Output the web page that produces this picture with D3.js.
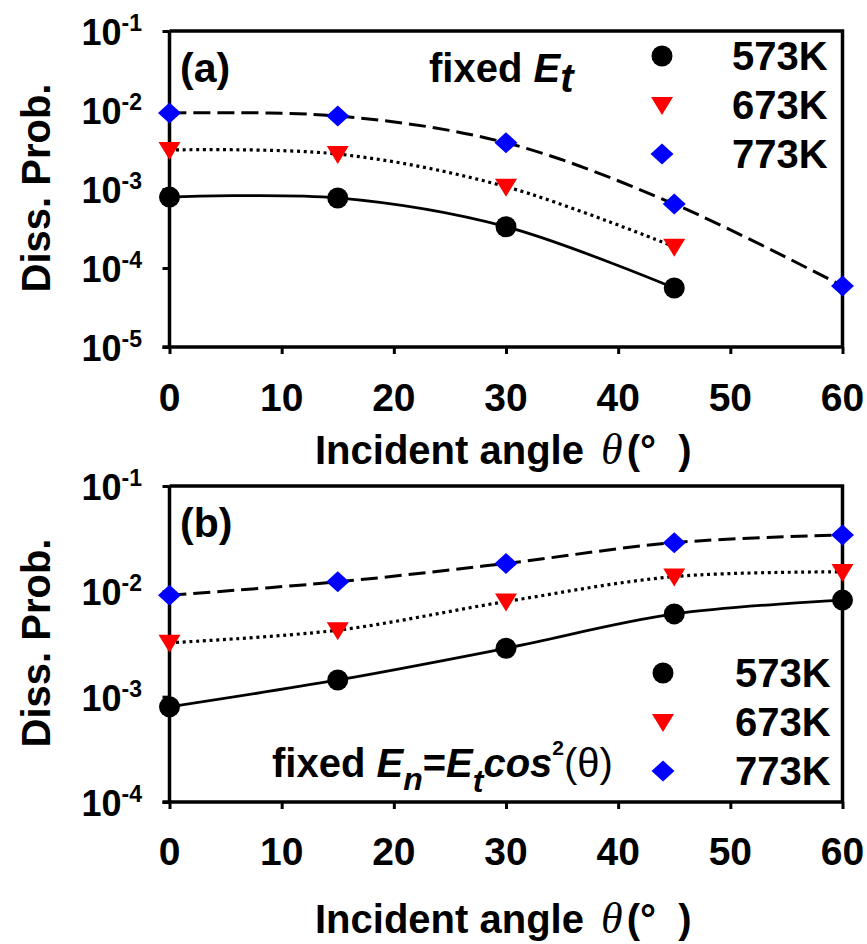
<!DOCTYPE html>
<html>
<head>
<meta charset="utf-8">
<script src="https://cdn.jsdelivr.net/npm/d3@7"></script>
<style>
  html, body { margin: 0; padding: 0; background: #fff; }
  svg { display: block; }
  text { font-family: "Liberation Sans", Arial, sans-serif; font-weight: bold; fill: #000; white-space: pre; }
</style>
</head>
<body>
<svg id="fig" width="867" height="944"></svg>
<script>
// Incident angles (degrees)
const anglesA = [0, 15, 30, 45, 60];
const anglesB = [0, 15, 30, 45, 60];

// Panel (a): fixed total energy E_t
const a573 = [7.9e-4, 7.7e-4, 3.33e-4, 5.58e-5];
const a673 = [3.12e-3, 2.77e-3, 1.07e-3, 1.86e-4];
const a773 = [9.16e-3, 8.4e-3, 3.85e-3, 6.45e-4, 5.91e-5];

// Panel (b): fixed normal energy E_n = E_t cos^2(theta)
const b573 = [8.0e-4, 1.44e-3, 2.88e-3, 6.1e-3, 8.26e-3];
const b673 = [3.25e-3, 4.28e-3, 8.0e-3, 1.38e-2, 1.53e-2];
const b773 = [9.2e-3, 1.23e-2, 1.84e-2, 2.9e-2, 3.43e-2];

const seriesNames = ["573K", "673K", "773K"];
const xTicks = [0, 10, 20, 30, 40, 50, 60];
const yTicksA = [-1, -2, -3, -4, -5];
const yTicksB = [-1, -2, -3, -4];

const svg = d3.select("#fig");

const styles = [
  { color: "#000000", shape: "circle",   dash: null,      width: 2.8 },
  { color: "#ff0000", shape: "triangle", dash: "3,3.7",   width: 3.2 },
  { color: "#0000ff", shape: "diamond",  dash: "17,7",    width: 3 }
];

function marker(g, shape, color, x, y) {
  if (shape === "circle") {
    g.append("circle").attr("cx", x).attr("cy", y).attr("r", 10.5).attr("fill", color);
  } else if (shape === "triangle") {
    g.append("path")
      .attr("d", `M${x - 11},${y - 8} L${x + 11},${y - 8} L${x},${y + 10} Z`)
      .attr("fill", color);
  } else {
    g.append("path")
      .attr("d", `M${x},${y - 10.5} L${x + 11.5},${y} L${x},${y + 10.5} L${x - 11.5},${y} Z`)
      .attr("fill", color);
  }
}

function panel(opts) {
  const { top, bottom, yDomain, yTicks, angles, series, label, legendY, legendX, textX, titleY, xLabelY, xTitleY } = opts;
  const left = 169.5, right = 842.5;
  const x = d3.scaleLinear().domain([0, 60]).range([left, right]);
  const y = d3.scaleLog().domain(yDomain).range([bottom, top]);
  const g = svg.append("g");

  // frame: top and right border
  g.append("path")
    .attr("d", `M${left},${top} L${right},${top} L${right},${bottom}`)
    .attr("fill", "none").attr("stroke", "#000").attr("stroke-width", 3.5);

  // left axis
  const yAxis = d3.axisLeft(y)
    .tickValues(yTicks.map(e => Math.pow(10, e)))
    .tickSize(7).tickFormat("");
  const ya = g.append("g").attr("transform", `translate(${left},0)`).call(yAxis);
  ya.select(".domain").attr("stroke-width", 3.5).attr("d", `M0,${top}V${bottom}`);
  ya.selectAll(".tick line").attr("stroke-width", 3);

  // y tick labels as 10^n
  yTicks.forEach(e => {
    const ty = y(Math.pow(10, e));
    const t = g.append("text").attr("x", 142).attr("y", ty + 14)
      .attr("text-anchor", "end").style("font-size", "36px");
    t.append("tspan").text("10");
    t.append("tspan").attr("dy", -14).style("font-size", "23px").text("-" + Math.abs(e));
  });

  // bottom axis
  const xAxis = d3.axisBottom(x).tickValues(xTicks).tickSize(7).tickFormat("");
  const xa = g.append("g").attr("transform", `translate(0,${bottom})`).call(xAxis);
  xa.select(".domain").attr("stroke-width", 3.5).attr("d", `M${left - 7},0H${right}`);
  xa.selectAll(".tick line").attr("stroke-width", 3);
  xTicks.forEach(v => {
    g.append("text").attr("x", x(v)).attr("y", xLabelY)
      .attr("text-anchor", "middle").style("font-size", "39px").text(v);
  });

  // x title
  const xt = g.append("text").attr("x", 315).attr("y", xTitleY).style("font-size", "40px");
  xt.append("tspan").text("Incident angle ");
  xt.append("tspan").attr("dx", 6).style("font-style", "italic").style("font-weight", "normal")
    .style("font-family", "'Liberation Serif', serif").style("font-size", "44px").text("θ");
  xt.append("tspan").attr("dx", 4).text("(°\u00a0\u00a0)");

  // y title
  g.append("text")
    .attr("transform", `translate(50,${titleY}) rotate(-90)`)
    .attr("text-anchor", "middle").style("font-size", "40px")
    .text("Diss. Prob.");

  // curves then markers
  const line = d3.line()
    .x(d => x(d[0])).y(d => y(d[1]))
    .curve(d3.curveCatmullRom.alpha(0.5));
  series.forEach((vals, i) => {
    const pts = vals.map((v, k) => [angles[k], v]);
    const st = styles[i];
    const p = g.append("path").datum(pts).attr("d", line)
      .attr("fill", "none").attr("stroke", "#000").attr("stroke-width", st.width);
    if (st.dash) p.attr("stroke-dasharray", st.dash);
  });
  series.forEach((vals, i) => {
    vals.forEach((v, k) => marker(g, styles[i].shape, styles[i].color, x(angles[k]), y(v)));
  });

  // legend
  seriesNames.forEach((name, i) => {
    const ly = legendY + i * 49;
    marker(g, styles[i].shape, styles[i].color, legendX, ly - 14);
    g.append("text").attr("x", textX).attr("y", ly).style("font-size", "40px").text(name);
  });

  // panel label
  g.append("text").attr("x", 180).attr("y", label.y).style("font-size", "41px").text(label.text);
  return g;
}

// Panel (a)
const ga = panel({
  top: 31, bottom: 347, yDomain: [1e-5, 1e-1], yTicks: yTicksA,
  angles: anglesA, series: [a573, a673, a773],
  label: { text: "(a)", y: 82 },
  legendY: 70, legendX: 662, textX: 732,
  titleY: 188, xLabelY: 411, xTitleY: 464
});
const fa = ga.append("text").attr("x", 429).attr("y", 82).style("font-size", "40px");
fa.append("tspan").text("fixed ");
fa.append("tspan").style("font-style", "italic").text("E");
fa.append("tspan").attr("dy", 10).style("font-style", "italic").text("t");

// Panel (b)
const gb = panel({
  top: 486, bottom: 802, yDomain: [1e-4, 1e-1], yTicks: yTicksB,
  angles: anglesB, series: [b573, b673, b773],
  label: { text: "(b)", y: 537 },
  legendY: 687, legendX: 663, textX: 735,
  titleY: 643, xLabelY: 865, xTitleY: 933
});
const fb = gb.append("text").attr("x", 272).attr("y", 777).style("font-size", "40px");
fb.append("tspan").text("fixed ");
fb.append("tspan").style("font-style", "italic").text("E");
fb.append("tspan").attr("dy", 13).style("font-style", "italic").style("font-size", "32px").text("n");
fb.append("tspan").attr("dy", -13).text("=");
fb.append("tspan").style("font-style", "italic").text("E");
fb.append("tspan").attr("dy", 15).style("font-style", "italic").style("font-size", "32px").text("t");
fb.append("tspan").attr("dy", -15).style("font-style", "italic").text("cos");
fb.append("tspan").attr("dy", -22).style("font-size", "21px").text("2");
fb.append("tspan").attr("dy", 22).style("font-weight", "normal").text("(θ)");
</script>
</body>
</html>
